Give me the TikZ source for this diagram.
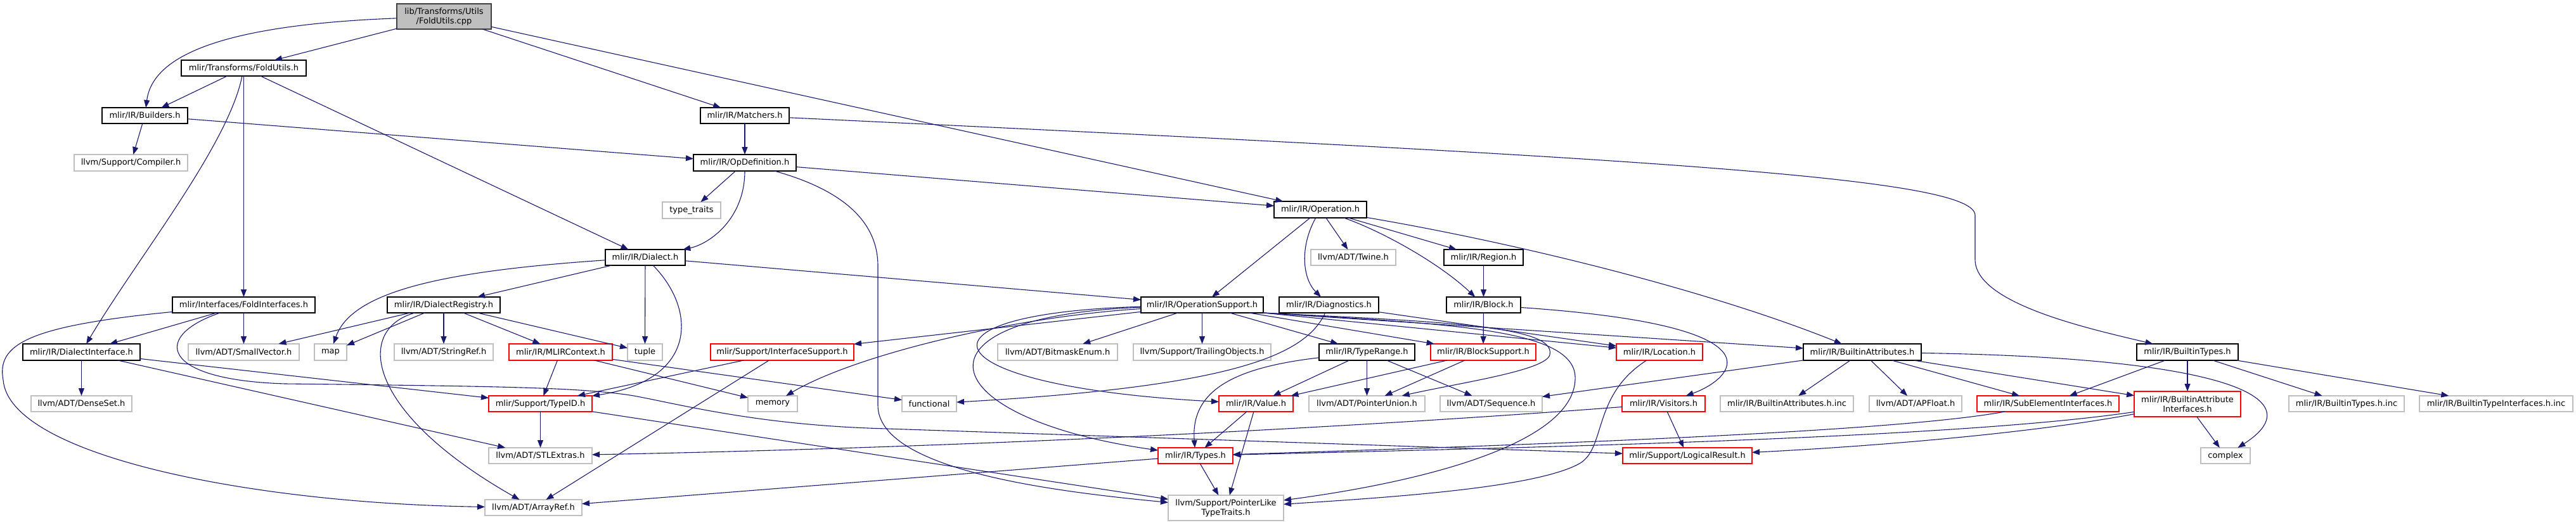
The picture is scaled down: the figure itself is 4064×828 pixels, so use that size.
\documentclass[tikz,border=0pt]{standalone}
\usepackage{fontspec}
\setmainfont{DejaVu Sans}
\usetikzlibrary{arrows.meta}
\definecolor{edgeblue}{HTML}{191970}
\definecolor{greyext}{HTML}{BFBFBF}
\definecolor{rootfill}{HTML}{BFBFBF}
\newcommand{\nodefont}{\fontsize{13}{15}\selectfont}
\newcommand{\mknode}[7]{\node[#2, minimum width={#4-#3}, minimum height={#6-#5}] (#1) at ({(#3+#4)/2},{(#5+#6)/2}) {#7};}
\begin{document}
\begin{tikzpicture}[x=1pt,y=-1pt,
  nbase/.style={rectangle, inner sep=0pt, outer sep=0pt, font=\nodefont, align=center, fill=white, text=black},
  docnode/.style={nbase, draw=black, line width=1.4pt},
  trunc/.style={nbase, draw=red, line width=1.2pt},
  extnode/.style={nbase, draw=greyext, line width=1.2pt},
  rootnode/.style={nbase, draw=black!75, fill=rootfill, line width=1.4pt},
  dep/.style={draw=edgeblue, line width=1.1pt, -{Triangle[length=12pt,width=9pt]}}
]
\fill[white] (0,0) rectangle (4064,828);
\useasboundingbox (0,0) rectangle (4064,828);

% nodes
\mknode{root}{rootnode}{626}{775}{6}{46}{lib/Transforms/Utils\\/FoldUtils.cpp}
\mknode{FU}{docnode}{286}{483}{95}{120}{mlir/Transforms/FoldUtils.h}
\mknode{BLD}{docnode}{161}{296}{170}{195}{mlir/IR/Builders.h}
\mknode{MAT}{docnode}{1105}{1245}{170}{195}{mlir/IR/Matchers.h}
\mknode{CMP}{extnode}{117}{296}{244}{270}{llvm/Support/Compiler.h}
\mknode{OD}{docnode}{1094}{1256}{244}{270}{mlir/IR/OpDefinition.h}
\mknode{TT}{extnode}{1045}{1137}{319}{345}{type\_traits}
\mknode{OP}{docnode}{2010}{2156}{318}{344}{mlir/IR/Operation.h}
\mknode{DL}{docnode}{955}{1081}{394}{419}{mlir/IR/Dialect.h}
\mknode{TW}{extnode}{2068}{2202}{394}{419}{llvm/ADT/Twine.h}
\mknode{RG}{docnode}{2278}{2403}{394}{419}{mlir/IR/Region.h}
\mknode{FI}{docnode}{272}{497}{469}{494}{mlir/Interfaces/FoldInterfaces.h}
\mknode{DR}{docnode}{611}{789}{469}{494}{mlir/IR/DialectRegistry.h}
\mknode{OS}{docnode}{1800}{1993}{469}{494}{mlir/IR/OperationSupport.h}
\mknode{DG}{docnode}{2018}{2175}{469}{494}{mlir/IR/Diagnostics.h}
\mknode{BLK}{docnode}{2282}{2399}{469}{494}{mlir/IR/Block.h}
\mknode{DI}{docnode}{36}{221}{543}{569}{mlir/IR/DialectInterface.h}
\mknode{SV}{extnode}{297}{472}{543}{569}{llvm/ADT/SmallVector.h}
\mknode{MAP}{extnode}{496}{547}{543}{569}{map}
\mknode{SR}{extnode}{622}{778}{543}{569}{llvm/ADT/StringRef.h}
\mknode{MC}{trunc}{803}{966}{543}{569}{mlir/IR/MLIRContext.h}
\mknode{TUP}{extnode}{990}{1045}{543}{569}{tuple}
\mknode{IS}{trunc}{1121}{1347}{543}{569}{mlir/Support/InterfaceSupport.h}
\mknode{BM}{extnode}{1574}{1763}{543}{569}{llvm/ADT/BitmaskEnum.h}
\mknode{TO}{extnode}{1788}{2005}{543}{569}{llvm/Support/TrailingObjects.h}
\mknode{TR}{docnode}{2081}{2232}{543}{569}{mlir/IR/TypeRange.h}
\mknode{BS}{trunc}{2257}{2423}{543}{569}{mlir/IR/BlockSupport.h}
\mknode{LOC}{trunc}{2550}{2686}{543}{569}{mlir/IR/Location.h}
\mknode{BA}{docnode}{2845}{3031}{543}{569}{mlir/IR/BuiltinAttributes.h}
\mknode{BT}{docnode}{3371}{3531}{543}{569}{mlir/IR/BuiltinTypes.h}
\mknode{DS}{extnode}{49}{208}{625}{650}{llvm/ADT/DenseSet.h}
\mknode{TID}{trunc}{771}{934}{625}{650}{mlir/Support/TypeID.h}
\mknode{MEM}{extnode}{1180}{1258}{625}{650}{memory}
\mknode{FN}{extnode}{1423}{1509}{625}{650}{functional}
\mknode{VAL}{trunc}{1923}{2040}{625}{650}{mlir/IR/Value.h}
\mknode{PU}{extnode}{2065}{2248}{625}{650}{llvm/ADT/PointerUnion.h}
\mknode{SEQ}{extnode}{2272}{2433}{625}{650}{llvm/ADT/Sequence.h}
\mknode{VIS}{trunc}{2559}{2690}{625}{650}{mlir/IR/Visitors.h}
\mknode{BAINC}{extnode}{2714}{2924}{625}{650}{mlir/IR/BuiltinAttributes.h.inc}
\mknode{APF}{extnode}{2949}{3095}{625}{650}{llvm/ADT/APFloat.h}
\mknode{SE}{trunc}{3119}{3343}{625}{650}{mlir/IR/SubElementInterfaces.h}
\mknode{BAI}{trunc}{3367}{3535}{618}{658}{mlir/IR/BuiltinAttribute\\Interfaces.h}
\mknode{BTINC}{extnode}{3611}{3793}{625}{650}{mlir/IR/BuiltinTypes.h.inc}
\mknode{BTIINC}{extnode}{3817}{4059}{625}{650}{mlir/IR/BuiltinTypeInterfaces.h.inc}
\mknode{STL}{extnode}{771}{934}{707}{732}{llvm/ADT/STLExtras.h}
\mknode{TY}{trunc}{1827}{1945}{707}{732}{mlir/IR/Types.h}
\mknode{LR}{trunc}{2560}{2764}{707}{732}{mlir/Support/LogicalResult.h}
\mknode{CX}{extnode}{3472}{3550}{707}{732}{complex}
\mknode{AR}{extnode}{765}{918}{789}{814}{llvm/ADT/ArrayRef.h}
\mknode{PL}{extnode}{1843}{2025}{782}{822}{llvm/Support/PointerLike\\TypeTraits.h}

% edges: root
\draw[dep] (root) .. controls (330,40) and (240,95) .. (BLD);
\draw[dep] (root) -- (FU);
\draw[dep] (root) -- (MAT);
\draw[dep] (root) -- (OP);
% FoldUtils.h
\draw[dep] (FU) -- (BLD);
\draw[dep] (FU) .. controls (360,230) and (215,410) .. (DI);
\draw[dep] (FU) -- (FI);
\draw[dep] (FU) -- (DL);
% Builders.h
\draw[dep] (BLD) -- (CMP);
\draw[dep] (BLD) -- (OD);
% Matchers.h
\draw[dep] (MAT) -- (OD);
\draw[dep] (MAT) .. controls (2600,250) and (3116,280) .. (3116,340) -- (3116,410) .. controls (3116,480) and (3300,520) .. (BT);
% OpDefinition.h
\draw[dep] (OD) -- (TT);
\draw[dep] (OD) .. controls (1175,345) and (1120,385) .. (DL);
\draw[dep] (OD) -- (OP);
\draw[dep] (OD) .. controls (1330,300) and (1385,350) .. (1385,420) -- (1385,640) .. controls (1385,740) and (1650,775) .. (PL);
% Operation.h
\draw[dep] (OP) -- (OS);
\draw[dep] (OP) .. controls (2050,390) and (2055,440) .. (DG);
\draw[dep] (OP) -- (TW);
\draw[dep] (OP) .. controls (2180,365) and (2270,415) .. (BLK);
\draw[dep] (OP) -- (RG);
\draw[dep] (OP) .. controls (2400,385) and (2700,460) .. (BA);
% Region.h, Block.h
\draw[dep] (RG) -- (BLK);
\draw[dep] (BLK) -- (BS);
\draw[dep] (BLK) .. controls (2830,515) and (2730,600) .. (VIS);
% Dialect.h
\draw[dep] (DL) -- (DR);
\draw[dep] (DL) .. controls (700,428) and (555,460) .. (MAP);
\draw[dep] (DL) -- (TUP);
\draw[dep] (DL) .. controls (1100,490) and (1100,600) .. (TID);
\draw[dep] (DL) -- (OS);
% DialectRegistry.h
\draw[dep] (DR) -- (SV);
\draw[dep] (DR) -- (MAP);
\draw[dep] (DR) -- (SR);
\draw[dep] (DR) -- (MC);
\draw[dep] (DR) -- (TUP);
\draw[dep] (DR) .. controls (560,520) and (575,650) .. (AR);
% FoldInterfaces.h
\draw[dep] (FI) -- (DI);
\draw[dep] (FI) -- (SV);
\draw[dep] (FI) .. controls (40,515) and (-5,545) .. (5,600) .. controls (15,720) and (400,795) .. (AR);
\draw[dep] (FI) .. controls (240,530) and (250,600) .. (450,606) .. controls (800,610) and (920,612) .. (1000,625) .. controls (1080,640) and (1200,672) .. (1400,677) -- (LR);
% DialectInterface.h
\draw[dep] (DI) -- (DS);
\draw[dep] (DI) -- (TID);
\draw[dep] (DI) -- (STL);
% MLIRContext.h
\draw[dep] (MC) -- (TID);
\draw[dep] (MC) -- (MEM);
\draw[dep] (MC) -- (FN);
% InterfaceSupport.h
\draw[dep] (IS) -- (TID);
\draw[dep] (IS) -- (AR);
% TypeID.h
\draw[dep] (TID) -- (STL);
\draw[dep] (TID) -- (PL);
% OperationSupport.h
\draw[dep] (OS) -- (IS);
\draw[dep] (OS) .. controls (1600,500) and (1350,560) .. (MEM);
\draw[dep] (OS) -- (BM);
\draw[dep] (OS) -- (TO);
\draw[dep] (OS) .. controls (1420,495) and (1460,610) .. (VAL);
\draw[dep] (OS) .. controls (1420,500) and (1470,660) .. (TY);
\draw[dep] (OS) -- (TR);
\draw[dep] (OS) -- (BS);
\draw[dep] (OS.south east) -- (LOC);
\draw[dep] (OS.south east) -- (BA);
\draw[dep] (OS.south east) .. controls (2280,508) and (2455,515) .. (2445,560) .. controls (2440,585) and (2300,605) .. (PU);
\draw[dep] (OS.south east) .. controls (2300,512) and (2490,520) .. (2485,600) .. controls (2480,700) and (2250,760) .. (PL);
% Diagnostics.h
\draw[dep] (DG) .. controls (2060,560) and (1950,610) .. (FN);
\draw[dep] (DG) -- (LOC);
% TypeRange.h
\draw[dep] (TR) .. controls (1950,580) and (1878,615) .. (TY);
\draw[dep] (TR) -- (PU);
\draw[dep] (TR) -- (SEQ);
\draw[dep] (TR) -- (VAL);
% BlockSupport.h
\draw[dep] (BS) -- (VAL);
\draw[dep] (BS) -- (PU);
% Location.h
\draw[dep] (LOC) .. controls (2510,625) and (2535,710) .. (2490,733) .. controls (2420,770) and (2200,785) .. (PL);
% Visitors.h
\draw[dep] (VIS) .. controls (2200,670) and (1600,705) .. (STL);
\draw[dep] (VIS) -- (LR);
% Value.h, Types.h
\draw[dep] (VAL) -- (TY);
\draw[dep] (VAL) -- (PL);
\draw[dep] (TY) -- (PL);
\draw[dep] (TY) -- (AR);
% BuiltinAttributes.h
\draw[dep] (BA) -- (BAINC);
\draw[dep] (BA) -- (APF);
\draw[dep] (BA) -- (SE);
\draw[dep] (BA) -- (BAI);
\draw[dep] (BA) -- (SEQ);
\draw[dep] (BA) .. controls (3520,565) and (3650,630) .. (CX);
% BuiltinTypes.h
\draw[dep] (BT) -- (SE);
\draw[dep] (BT) -- (BAI);
\draw[dep] (BT) -- (BTINC);
\draw[dep] (BT) -- (BTIINC);
% BuiltinAttributeInterfaces.h
\draw[dep] (BAI) -- (CX);
\draw[dep] (BAI) .. controls (3100,690) and (2500,705) .. (TY);
\draw[dep] (BAI) .. controls (3200,685) and (2950,705) .. (LR);
% SubElementInterfaces.h
\draw[dep] (SE) .. controls (3000,680) and (2500,700) .. (TY);
\end{tikzpicture}
\end{document}
